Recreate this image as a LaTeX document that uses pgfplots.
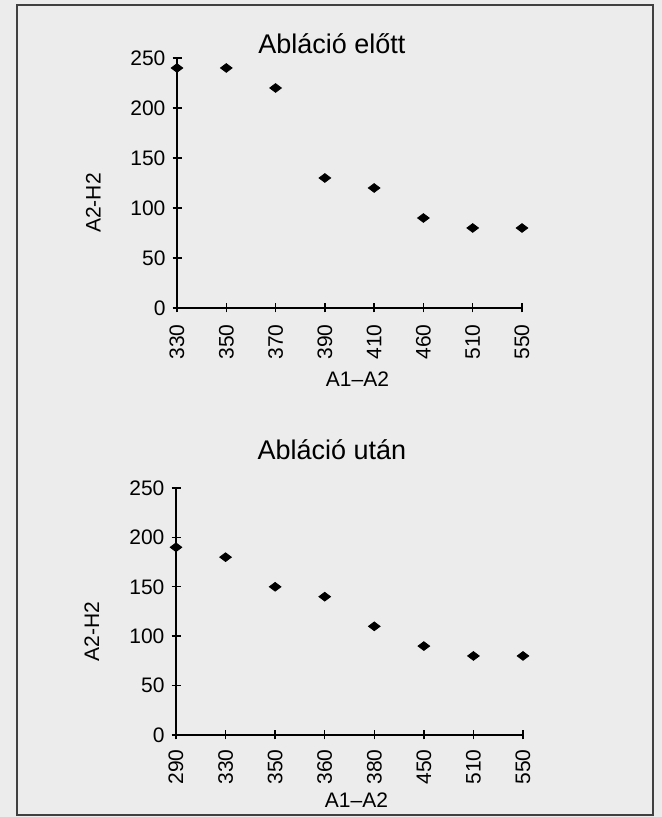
\documentclass[border=0pt]{standalone}
\usepackage{pgfplots}
\pgfplotsset{compat=1.18}
\usepackage{fontspec}
\setmainfont{Liberation Sans}
\definecolor{bg}{RGB}{236,236,236}
\begin{document}
\begin{tikzpicture}
\fill[bg] (0pt,0pt) rectangle (331pt,408.5pt);
\draw[line width=0.9pt, black!75] (8.5pt,1pt) rectangle (326.5pt,406pt);
\pgfplotsset{myax/.style={
  scale only axis,
  anchor=south west,
  axis lines=left,
  axis line style={line width=1pt,-},
  xmin=0, xmax=7, ymin=0, ymax=250,
  ytick={0,50,100,150,200,250},
  xtick={0,1,2,3,4,5,6,7},
  tick align=center,
  major tick length=4.5pt,
  tick style={line width=0.7pt, black},
  /pgf/number format/assume math mode=true,
  tick label style={font=\fontsize{10.5}{12}\selectfont},
  x tick label style={rotate=90, anchor=east},
  label style={font=\fontsize{10.5}{12}\selectfont},
  xlabel={A1--A2},
  ylabel={A2-H2},
  ylabel style={at={(axis description cs:-0.243,0.42)}, anchor=center},
  clip=false,
}}
\begin{axis}[myax, at={(88.5pt,254.5pt)}, width=172.5pt, height=125pt,
  xticklabel shift=2.5pt,
  xlabel style={at={(axis description cs:0.523,0)}, anchor=center, yshift=-35.75pt},
  xticklabels={330,350,370,390,410,460,510,550}]
\addplot[only marks, mark=diamond*, mark size=2.9pt, mark options={rotate=90, black, fill=black}] coordinates {
 (0,240) (1,240) (2,220) (3,130) (4,120) (5,90) (6,80) (7,80)};
\node[anchor=base, font=\fontsize{13.5}{15}\selectfont] at (axis description cs:0.449,1) [yshift=2.2pt] {Abláció előtt};
\end{axis}
\begin{axis}[myax, at={(88pt,41pt)}, width=173.5pt, height=123.5pt,
  xticklabel shift=1.5pt,
  xlabel style={at={(axis description cs:0.52,0)}, anchor=center, yshift=-32.75pt},
  xticklabels={290,330,350,360,380,450,510,550}]
\addplot[only marks, mark=diamond*, mark size=2.9pt, mark options={rotate=90, black, fill=black}] coordinates {
 (0,190) (1,180) (2,150) (3,140) (4,110) (5,90) (6,80) (7,80)};
\node[anchor=base, font=\fontsize{13.5}{15}\selectfont] at (axis description cs:0.449,1) [yshift=14pt] {Abláció után};
\end{axis}
\end{tikzpicture}
\end{document}
